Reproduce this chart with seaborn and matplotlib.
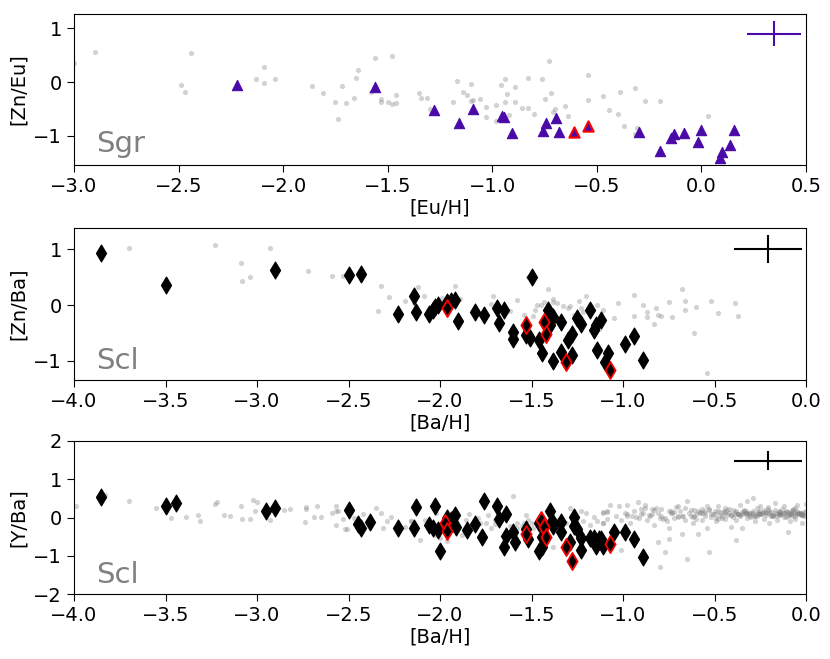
import numpy as np
import pandas as pd
import matplotlib
matplotlib.use("Agg")
import matplotlib.pyplot as plt
import seaborn as sns

# ---------------- Panel 1: Sgr [Zn/Eu] vs [Eu/H] ----------------
sgr_x = [-2.22, -1.56, -1.28, -1.16, -1.09, -0.954, -0.946, -0.906, -0.757, -0.742,
         -0.697, -0.683, -0.298, -0.196, -0.145, -0.133, -0.085, -0.018, -0.002,
         0.091, 0.10, 0.135, 0.158]
sgr_y = [-0.06, -0.09, -0.52, -0.77, -0.51, -0.64, -0.66, -0.95, -0.91, -0.77,
         -0.67, -0.94, -0.94, -1.29, -1.05, -0.98, -0.95, -1.12, -0.89,
         -1.42, -1.30, -1.17, -0.90]
sgr_red_x = [-0.609, -0.542]
sgr_red_y = [-0.94, -0.82]

mw1_x = [-3.0, -2.90, -2.49, -2.47, -2.44, -2.13, -2.09, -2.09, -2.04, -1.86, -1.81,
         -1.75, -1.74, -1.72, -1.70, -1.66, -1.65, -1.64, -1.56, -1.58, -1.53, -1.53,
         -1.50, -1.48, -1.48, -1.46, -1.46, -1.35, -1.34, -1.31, -1.30, -1.19, -1.17,
         -1.14, -1.12, -1.10, -1.10, -1.09, -1.06, -1.03, -1.03, -0.98, -0.98, -0.96,
         -0.94, -0.94, -0.93, -0.92, -0.89, -0.89, -0.86, -0.83, -0.83, -0.80, -0.76,
         -0.75, -0.73, -0.72, -0.71, -0.70, -0.65, -0.64, -0.54, -0.54, -0.47, -0.44,
         -0.40, -0.39, -0.37, -0.32, -0.31, -0.32, -0.27, -0.20, 0.03]
mw1_y = [0.35, 0.56, -0.05, -0.18, 0.55, 0.06, 0.28, -0.02, 0.06, -0.08, -0.20,
         -0.38, -0.70, -0.08, -0.40, -0.29, 0.08, 0.22, 0.44, -0.19, -0.31, -0.38,
         -0.38, 0.49, -0.41, -0.25, -0.40, -0.20, -0.30, -0.30, -0.50, -0.38, 0.01,
         -0.19, -0.24, -0.04, -0.35, -0.33, -0.32, -0.46, -0.66, -0.43, -0.72, -0.06,
         0.05, -0.37, -0.22, -0.61, -0.09, -0.38, -0.48, 0.08, -0.49, -0.59, 0.06,
         -0.32, 0.39, -0.21, -0.56, -0.50, -0.45, -0.64, 0.14, -0.33, -0.27, -0.53,
         -0.59, -0.18, -0.82, -0.12, -0.86, -0.97, -0.35, -0.36, -0.64]

# ---------------- Panel 2: Scl [Zn/Ba] vs [Ba/H] ----------------
scl2_x = [-3.85, -3.50, -2.90, -2.50, -2.43, -2.23, -2.14, -2.13, -2.06, -2.04, -2.03,
          -2.01, -1.96, -1.94, -1.92, -1.90, -1.81, -1.76, -1.69, -1.68, -1.65, -1.60,
          -1.60, -1.53, -1.51, -1.50, -1.46, -1.44, -1.41, -1.40, -1.38, -1.38, -1.34,
          -1.34, -1.30, -1.28, -1.28, -1.25, -1.23, -1.18, -1.16, -1.15, -1.14, -1.12,
          -1.10, -1.08, -0.99, -0.94, -0.89]
scl2_y = [0.93, 0.36, 0.63, 0.54, 0.55, -0.16, 0.16, -0.12, -0.15, -0.09, -0.03,
          0.0, 0.06, 0.07, 0.09, -0.28, -0.12, -0.17, -0.06, -0.32, -0.09, -0.48,
          -0.60, -0.54, -0.58, 0.51, -0.63, -0.86, -0.09, -0.36, -0.21, -1.00, -0.31,
          -0.83, -0.63, -0.52, -0.89, -0.23, -0.33, -0.09, -0.45, -0.36, -0.80, -0.27,
          -1.02, -0.86, -0.70, -0.55, -0.99]
scl2_red_x = [-1.96, -1.53, -1.43, -1.42, -1.31, -1.07]
scl2_red_y = [-0.05, -0.35, -0.30, -0.52, -1.02, -1.16]

mw2_x = [-3.70, -3.23, -3.09, -3.08, -3.04, -2.93, -2.72, -2.59, -2.53, -2.34, -2.32,
         -2.28, -2.19, -2.15, -2.14, -2.12, -2.09, -1.99, -1.92, -1.89, -1.71, -1.72,
         -1.62, -1.58, -1.54, -1.52, -1.49, -1.48, -1.47, -1.45, -1.43, -1.41, -1.38,
         -1.38, -1.36, -1.33, -1.30, -1.29, -1.27, -1.24, -1.23, -1.22, -1.20, -1.14,
         -1.13, -1.11, -1.05, -1.03, -0.94, -0.94, -0.89, -0.87, -0.87, -0.83, -0.82,
         -0.81, -0.79, -0.75, -0.73, -0.68, -0.66, -0.66, -0.61, -0.60, -0.54, -0.52,
         -0.48, -0.39, -0.37]
mw2_y = [1.02, 1.08, 0.75, 0.43, 0.50, 1.02, 0.61, 0.52, 0.52, -0.10, 0.34,
         0.15, 0.07, 0.21, 0.04, 0.32, 0.16, 0.12, 0.34, 0.11, 0.16, 0.02,
         -0.10, 0.09, -0.18, 0.51, -0.19, -0.09, 0.0, 0.01, 0.05, 0.29, 0.05,
         0.11, 0.04, -0.01, -0.06, -0.02, -0.17, 0.07, -0.05, -0.13, 0.16, 0.0,
         -0.42, -0.08, -0.23, 0.04, 0.19, -0.20, 0.0, -0.12, -0.21, -0.33, -0.06,
         -0.17, -0.19, 0.05, -0.21, 0.28, -0.08, 0.07, -0.49, -0.03, -1.21, 0.07,
         -0.14, 0.04, -0.20]

# ---------------- Panel 3: Scl [Y/Ba] vs [Ba/H] ----------------
scl3_x = [-3.85, -3.50, -3.44, -2.95, -2.90, -2.50, -2.45, -2.43, -2.38, -2.23, -2.14,
          -2.13, -2.06, -2.04, -2.03, -2.01, -2.00, -1.96, -1.94, -1.93, -1.92, -1.91,
          -1.85, -1.81, -1.77, -1.76, -1.69, -1.68, -1.64, -1.64, -1.65, -1.60, -1.59,
          -1.53, -1.52, -1.46, -1.46, -1.44, -1.44, -1.40, -1.39, -1.38, -1.34, -1.34,
          -1.29, -1.27, -1.27, -1.25, -1.23, -1.23, -1.18, -1.16, -1.15, -1.13, -1.12,
          -1.11, -1.05, -0.99, -0.94, -0.89]
scl3_y = [0.53, 0.29, 0.39, 0.17, 0.25, 0.19, -0.18, -0.27, -0.11, -0.27, -0.27,
          0.27, -0.19, -0.28, 0.29, -0.32, -0.87, -0.02, -0.06, -0.15, 0.07, -0.25,
          -0.32, -0.16, -0.50, 0.44, 0.29, -0.03, 0.10, -0.48, -0.76, -0.39, -0.65,
          -0.30, -0.56, -0.87, -0.15, -0.50, -0.76, 0.17, -0.09, -0.23, -0.12, -0.39,
          -0.63, -0.22, 0.01, -0.30, -0.84, -0.54, -0.54, -0.54, -0.74, -0.56, -0.56,
          -0.74, -0.37, -0.39, -0.56, -1.04]
scl3_red_x = [-1.97, -1.96, -1.53, -1.45, -1.43, -1.42, -1.31, -1.28, -1.07]
scl3_red_y = [-0.15, -0.34, -0.43, -0.06, -0.25, -0.51, -0.77, -1.15, -0.69]

mw3_x = [-3.99, -3.83, -3.70, -3.55, -3.47, -3.39, -3.32, -3.31, -3.23, -3.22, -3.18,
         -3.15, -3.09, -3.08, -3.04, -3.02, -3.00, -3.01, -2.93, -2.85, -2.82, -2.74,
         -2.73, -2.73, -2.69, -2.67, -2.65, -2.59, -2.57, -2.57, -2.56, -2.57, -2.53,
         -2.52, -2.51, -2.47, -2.42, -2.35, -2.32, -2.31, -2.29, -2.27, -2.19, -2.16,
         -2.16, -2.11, -2.08, -2.03, -2.00, -1.96,
         -2.15, -2.02, -1.94, -1.88, -1.86, -1.84, -1.83, -1.79, -1.78, -1.75, -1.74,
         -1.72, -1.70, -1.70, -1.64, -1.62, -1.60, -1.58, -1.58, -1.55, -1.54, -1.53,
         -1.52, -1.50, -1.49, -1.46, -1.36, -1.35, -1.31, -1.29, -1.27, -1.25, -1.23,
         -1.22, -1.20, -1.18, -1.16, -1.14, -1.11, -1.11, -1.09, -1.38, -1.44,
         -1.07, -1.11, -1.09, -1.02, -0.98, -0.92, -0.88, -0.83, -0.79, -0.75, -0.70,
         -0.65, -0.61, -0.54, -0.48, -0.36, -0.32, -0.29, -0.25, -0.17, -0.12, -0.05,
         0.0, -1.11, -1.09, -1.04, -1.01, -0.99, -0.98, -0.96, -0.94, -0.91, -0.89,
         -0.87, -0.85, -0.83, -0.81, -0.79, -0.76, -0.75, -0.74, -0.72, -0.69, -0.68,
         -0.66, -0.64, -0.62, -0.61, -0.59, -0.57, -0.55, -0.54, -0.52, -0.50, -0.49,
         -0.47, -0.45, -0.44, -0.42, -0.41, -0.40, -0.38, -0.38, -0.36, -0.35, -0.34,
         -0.32, -0.30, -0.28, -0.27, -0.25, -0.23, -0.22, -0.20, -0.19, -0.17, -0.16,
         -0.14, -0.12, -0.11, -0.09, -0.09, -0.07, -0.06, -0.04, -0.02, -0.01, 0.0,
         -1.01, -0.81, -0.80, -0.77, -0.75, -0.68, -0.65, -0.59, -0.53, -0.38, -0.10,
         -0.63, -0.58, -0.56, -0.51, -0.47, -0.43, -0.40, -0.37, -0.33, -0.31, -0.29,
         -0.26, -0.24, -0.21, -0.18, -0.15, -0.13, -0.10, -0.08, -0.05, -0.03, -0.01,
         -0.46, -0.42, -0.39, -0.35, -0.30, -0.27, -0.24, -0.20, -0.16, -0.13, -0.09,
         -0.06, -0.03, -0.53, -0.49, -0.44, -0.33, -0.21, -0.14, -0.07, -0.02, -0.70,
         -0.72, -0.77, -0.84, -0.90, -0.95, -0.60, -0.57,
         -0.98, -0.93, -0.90, -0.86, -0.82, -0.78, -0.73, -0.71, -0.67, -0.63, -0.60,
         -0.58, -0.55, -0.53, -0.50, -0.48, -0.46, -0.44, -0.43, -0.41, -0.39, -0.37,
         -0.36, -0.34, -0.33, -0.31, -0.29, -0.28, -0.26, -0.25, -0.23, -0.22, -0.20,
         -0.19, -0.18, -0.16, -0.15, -0.14, -0.12, -0.11, -0.10, -0.08, -0.07, -0.06,
         -0.05, -0.04, -0.03, -0.02, -0.01, -0.45, -0.41, -0.37, -0.34, -0.31, -0.28,
         -0.25, -0.22, -0.19, -0.17, -0.14, -0.11, -0.08, -0.06, -0.04, -0.02, -0.35,
         -0.32, -0.29, -0.26, -0.23, -0.18, -0.15, -0.12, -0.10, -0.07, -0.05, -0.03,
         -0.88, -0.84, -0.80, -0.74, -0.70, -0.66, -0.62, -0.57, -0.52, -0.48]
mw3_y = [0.31, 0.59, 0.42, 0.24, 0.0, 0.01, 0.07, -0.08, 0.36, 0.40, 0.06,
         0.03, 0.29, -0.03, -0.04, 0.46, 0.41, 0.17, -0.06, 0.19, 0.21, -0.13,
         0.28, 0.22, 0.01, 0.31, 0.01, 0.11, 0.31, 0.17, 0.17, -0.19, -0.04,
         -0.29, -0.30, 0.00, 0.09, 0.24, 0.13, -0.28, -0.10, 0.02, -0.25, -0.08,
         -0.08, -0.60, -0.06, -0.45, -0.54, -0.62,
         -0.19, 0.11, -0.32, -0.45, -0.06, 0.08, -0.19, 0.00, -0.15, -0.15, 0.07,
         -0.28, -0.06, -0.17, 0.00, -0.23, 0.56, -0.15, -0.28, -0.23, -0.15, 0.07,
         -0.06, -0.15, -0.28, 0.00, -0.06, -0.32, -0.15, 0.24, 0.07, 0.00, 0.18,
         -0.10, 0.11, -0.19, 0.02, -0.10, 0.11, -0.15, 0.15, -0.76, -0.89,
         0.33, 0.14, 0.16, 0.29, 0.32, 0.41, 0.33, 0.20, 0.22, 0.16, 0.30,
         0.44, 0.20, 0.30, 0.29, 0.33, 0.43, 0.52, 0.29, 0.39, 0.29, 0.33,
         0.36, -0.15, -0.04, 0.04, -0.06, 0.11, 0.03, -0.15, 0.16, -0.02, 0.13,
         -0.06, 0.04, -0.19, 0.11, 0.03, -0.10, -0.28, 0.11, -0.02, 0.16, 0.04,
         -0.06, 0.11, -0.15, 0.03, 0.16, -0.06, 0.11, -0.28, 0.01, 0.16, -0.10,
         0.07, 0.16, -0.04, 0.11, -0.25, 0.01, 0.16, -0.06, 0.07, -0.28, 0.20,
         -0.02, 0.11, -0.10, 0.04, 0.16, -0.04, 0.11, -0.15, 0.03, 0.20, -0.06,
         0.11, 0.01, 0.16, -0.10, 0.07, 0.20, -0.04, 0.11, -0.15, 0.03, 0.16,
         -0.86, -0.63, -1.30, -0.89, -0.57, -0.43, -1.09, -0.43, -0.90, -0.58, -0.37,
         0.05, 0.12, 0.18, 0.08, 0.14, 0.06, 0.19, 0.09, 0.13, 0.05, 0.17,
         0.08, 0.12, 0.21, 0.06, 0.14, 0.10, 0.04, 0.18, 0.09, 0.12, 0.06,
         0.00, 0.22, 0.08, 0.15, 0.02, 0.24, 0.10, 0.17, 0.05, 0.22, 0.13,
         0.26, 0.09, 0.20, -0.02, 0.24, 0.09, 0.27, 0.14, 0.23, 0.07, 0.02,
         0.14, -0.01, 0.22, 0.08, 0.03, -0.04, 0.12,
         0.08, 0.02, 0.21, 0.07, 0.25, -0.03, 0.12, 0.27, 0.05, 0.19, 0.09,
         0.14, 0.03, 0.22, 0.10, 0.16, 0.04, 0.12, 0.19, 0.07, 0.15, 0.10,
         0.03, 0.13, 0.18, 0.08, 0.12, 0.05, 0.15, 0.09, 0.19, 0.06, 0.11,
         0.14, 0.04, 0.09, 0.17, 0.07, 0.12, 0.02, 0.15, 0.09, 0.05, 0.13,
         0.18, 0.08, 0.11, 0.06, 0.14, 0.14, 0.06, 0.10, 0.17, 0.12, 0.04,
         0.09, 0.15, 0.06, 0.12, 0.08, 0.14, 0.10, 0.05, 0.12, 0.09, 0.10,
         0.13, 0.07, 0.11, 0.15, 0.05, 0.10, 0.12, 0.08, 0.14, 0.11, 0.06,
         0.24, 0.09, -0.02, 0.18, 0.05, 0.26, 0.02, 0.21, 0.10, -0.05]

# error crosses: (x, y, xerr, yerr)
err1 = (0.346, 0.905, 0.128, 0.235)
err2 = (-0.206, 1.0, 0.185, 0.25)
err3 = (-0.206, 1.49, 0.185, 0.26)

purple = "#4a0aa8"
gray_kw = dict(color="gray", alpha=0.35, s=14, linewidth=0, zorder=1)

fig = plt.figure(figsize=(8.3, 6.59), dpi=100)
L, W = 74 / 830, (806 - 74) / 830
ax1 = fig.add_axes([L, 1 - 165 / 659, W, (165 - 14) / 659])
ax2 = fig.add_axes([L, 1 - 380 / 659, W, (380 - 228) / 659])
ax3 = fig.add_axes([L, 1 - 594 / 659, W, (594 - 441) / 659])

# Panel 1
sns.scatterplot(x=mw1_x, y=mw1_y, ax=ax1, **gray_kw)
sns.scatterplot(x=sgr_x, y=sgr_y, ax=ax1, marker="^", color=purple, s=55,
                edgecolor=purple, linewidth=0.8, zorder=3)
sns.scatterplot(x=sgr_red_x, y=sgr_red_y, ax=ax1, marker="^", color=purple, s=55,
                edgecolor="red", linewidth=1.5, zorder=3)
ax1.errorbar(err1[0], err1[1], xerr=err1[2], yerr=err1[3], color=purple, lw=1.5)
ax1.set_xlim(-3.0, 0.5)
ax1.set_ylim(-1.55, 1.27)
ax1.set_xlabel("[Eu/H]", fontsize=14)
ax1.set_ylabel("[Zn/Eu]", fontsize=14)
ax1.text(0.03, 0.085, "Sgr", transform=ax1.transAxes, fontsize=21, color="gray")

# Panel 2
sns.scatterplot(x=mw2_x, y=mw2_y, ax=ax2, **gray_kw)
sns.scatterplot(x=scl2_x, y=scl2_y, ax=ax2, marker="d", color="black", s=75,
                edgecolor="black", linewidth=0.8, zorder=3)
sns.scatterplot(x=scl2_red_x, y=scl2_red_y, ax=ax2, marker="d", color="black", s=75,
                edgecolor="red", linewidth=1.3, zorder=3)
ax2.errorbar(err2[0], err2[1], xerr=err2[2], yerr=err2[3], color="black", lw=1.5)
ax2.set_xlim(-4.0, 0.0)
ax2.set_ylim(-1.34, 1.38)
ax2.set_xlabel("[Ba/H]", fontsize=14)
ax2.set_ylabel("[Zn/Ba]", fontsize=14)
ax2.text(0.03, 0.075, "Scl", transform=ax2.transAxes, fontsize=21, color="gray")

# Panel 3
sns.scatterplot(x=mw3_x, y=mw3_y, ax=ax3, **gray_kw)
sns.scatterplot(x=scl3_x, y=scl3_y, ax=ax3, marker="d", color="black", s=75,
                edgecolor="black", linewidth=0.8, zorder=3)
sns.scatterplot(x=scl3_red_x, y=scl3_red_y, ax=ax3, marker="d", color="black", s=75,
                edgecolor="red", linewidth=1.3, zorder=3)
ax3.errorbar(err3[0], err3[1], xerr=err3[2], yerr=err3[3], color="black", lw=1.5)
ax3.set_xlim(-4.0, 0.0)
ax3.set_ylim(-2.0, 2.0)
ax3.set_yticks([-2, -1, 0, 1, 2])
ax3.set_xlabel("[Ba/H]", fontsize=14)
ax3.set_ylabel("[Y/Ba]", fontsize=14)
ax3.text(0.03, 0.075, "Scl", transform=ax3.transAxes, fontsize=21, color="gray")

for ax in (ax1, ax2, ax3):
    ax.tick_params(labelsize=14, length=5)
    ax.xaxis.labelpad = 2
    ax.yaxis.labelpad = 4

fig.savefig("out.png", dpi=100)
